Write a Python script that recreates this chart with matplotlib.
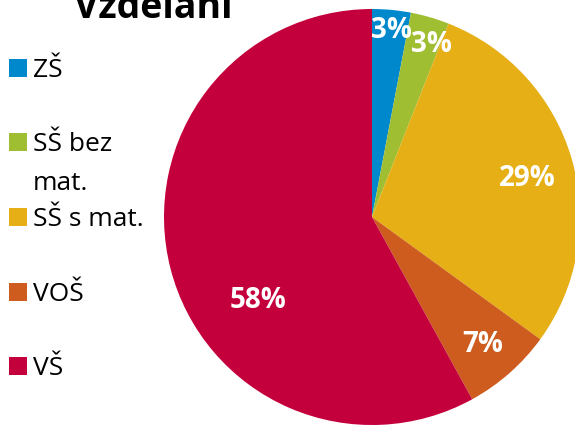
import matplotlib
matplotlib.use("Agg")
import matplotlib.pyplot as plt
import numpy as np
from matplotlib.patches import Rectangle

plt.rcParams['font.family'] = ['Open Sans', 'DejaVu Sans']

title = "Vzdělání"
categories = ["ZŠ", "SŠ bez\nmat.", "SŠ s mat.", "VOŠ", "VŠ"]
values = [3, 3, 29, 7, 58]
colors = ["#0088CC", "#A0BE32", "#E6AF16", "#CD5C1E", "#C4003C"]

# label placement (radius fraction, angle deg) - layout only
label_pos = [(0.90, 84), (0.875, 71), (0.77, 14), (0.81, -49), (0.68, -144)]

W, H = 575, 425
fig = plt.figure(figsize=(W / 100, H / 100), dpi=100)
cx, cy, r = 372, 217, 208
ax = fig.add_axes([(cx - r) / W, (H - cy - r) / H, 2 * r / W, 2 * r / H])
wedges, texts, autotexts = ax.pie(values, colors=colors, startangle=90, counterclock=False,
                                  autopct=lambda p: f"{p:.0f}%", radius=1,
                                  textprops=dict(color="white", fontsize=20, fontweight="bold"),
                                  wedgeprops=dict(linewidth=0))
for t, (rr, aa) in zip(autotexts, label_pos):
    t.set_position((rr * np.cos(np.radians(aa)), rr * np.sin(np.radians(aa))))
ax.set_xlim(-1, 1)
ax.set_ylim(-1, 1)
ax.set_aspect("equal")
ax.axis("off")

fig.text(153 / W, 1 - 18 / H, title, ha="center", va="baseline", fontsize=27, fontweight="bold")

ys = [68, 142, 217, 292, 366]
for lab, col, y in zip(categories, colors, ys):
    fig.patches.append(Rectangle((9 / W, 1 - (y + 9) / H), 18 / W, 18 / H, transform=fig.transFigure,
                                 facecolor=col, edgecolor="none"))
    fig.text(33 / W, 1 - (y - 10) / H, lab, ha="left", va="top", fontsize=19, linespacing=1.75)

fig.savefig("out.png", dpi=100)
